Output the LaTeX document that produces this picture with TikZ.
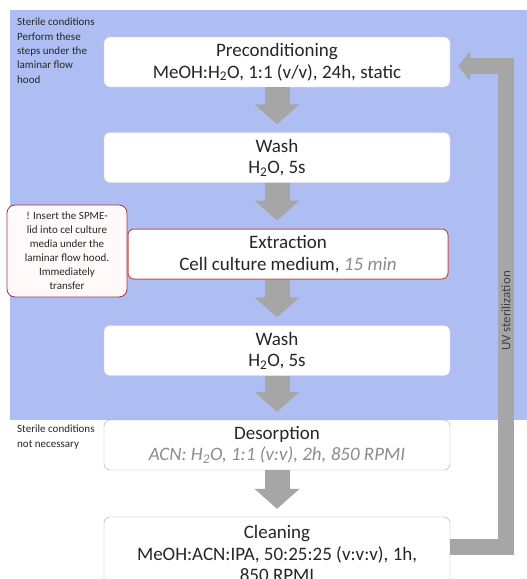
\documentclass[tikz,border=0pt]{standalone}
\usepackage{fontspec}
\setmainfont{Carlito}
\usetikzlibrary{arrows.meta}
\definecolor{bluebg}{HTML}{AEBEF2}
\definecolor{arrgray}{HTML}{A6A6A6}
\definecolor{textdark}{HTML}{262626}
\definecolor{italgray}{HTML}{8C8C8C}
\definecolor{boxborder}{HTML}{D4D4D4}
\definecolor{grayborder}{HTML}{A6A6A6}
\definecolor{redborder}{HTML}{C0504D}
\definecolor{noteborder}{HTML}{A0344E}
\definecolor{notefill}{HTML}{FFF9FA}
\definecolor{uvtext}{HTML}{404040}
\tikzset{
  stepbox/.style={draw=boxborder, fill=white, rounded corners=6pt, minimum width=346pt,
    minimum height=50pt, align=center, font=\fontsize{19}{21.5}\selectfont, text=textdark, inner sep=0pt},
  notebox/.style={draw=noteborder, fill=notefill, line width=0.8pt, rounded corners=8pt, minimum width=120pt,
    minimum height=92pt, align=center, font=\fontsize{11}{14}\selectfont, text=textdark, inner sep=0pt},
  sidetext/.style={align=left, font=\fontsize{11}{14.3}\selectfont, text=textdark, inner sep=0pt},
  blockarr/.style={draw=arrgray, line width=25pt, -{Triangle[width=44pt,length=20pt,fill=arrgray]}, shorten >=8pt},
  looparr/.style={draw=arrgray, line width=16pt, line join=miter, -{Triangle[width=30pt,length=12pt,fill=arrgray]}, shorten >=8pt}
}
\begin{document}
\begin{tikzpicture}[x=1pt,y=-1pt]
\useasboundingbox (0,0) rectangle (527,579);
\fill[white] (0,0) rectangle (527,579);
\fill[bluebg] (10,10) rectangle (527,420);

\node[stepbox] (pre) at (277,62) {Preconditioning\\MeOH:H\textsubscript{2}O, 1:1 (v/v), 24h, static};
\node[stepbox] (w1) at (277,157.5) {Wash\\H\textsubscript{2}O, 5s};
\node[stepbox, draw=redborder, line width=1pt, minimum width=320pt] (ext) at (288,254) {Extraction\\Cell culture medium, {\color{italgray}\itshape 15 min}};
\node[stepbox] (w2) at (277,350.5) {Wash\\H\textsubscript{2}O, 5s};
\node[stepbox, draw=grayborder] (des) at (277,445) {Desorption\\{\color{italgray}\itshape ACN: H\textsubscript{2}O, 1:1 (v:v), 2h, 850 RPMI}};
\node[stepbox, draw=grayborder, minimum height=73pt] (cln) at (277,553.5) {Cleaning\\MeOH:ACN:IPA, 50:25:25 (v:v:v), 1h,\\850 RPMI};

\node[notebox] (note) at (67,251) {! Insert the SPME-\\lid into cel culture\\media under the\\laminar flow hood.\\Immediately\\transfer};

\coordinate (extbot) at (ext.south -| pre.south);
\coordinate (exttop) at (ext.north -| pre.south);
\draw[blockarr] (pre.south) -- (w1.north);
\draw[blockarr] (w1.south) -- (exttop);
\draw[blockarr] (extbot) -- (w2.north);
\draw[blockarr] (w2.south) -- (des.north);
\draw[blockarr] (des.south) -- (cln.north);

\coordinate (uv) at (506,311);
\draw[looparr] ([yshift=7pt]cln.east) -| (uv) |- ([yshift=-4pt]pre.east);
\node[rotate=90, font=\fontsize{13}{14}\selectfont, text=uvtext, inner sep=0pt] (uvl) at (uv) {UV sterilization};

\node[sidetext, anchor=north west] (s1) at (17,18) {Sterile conditions\\Perform these\\steps under the\\laminar flow\\hood};
\node[sidetext, anchor=north west] (s2) at (17,425) {Sterile conditions\\not necessary};
\end{tikzpicture}
\end{document}
